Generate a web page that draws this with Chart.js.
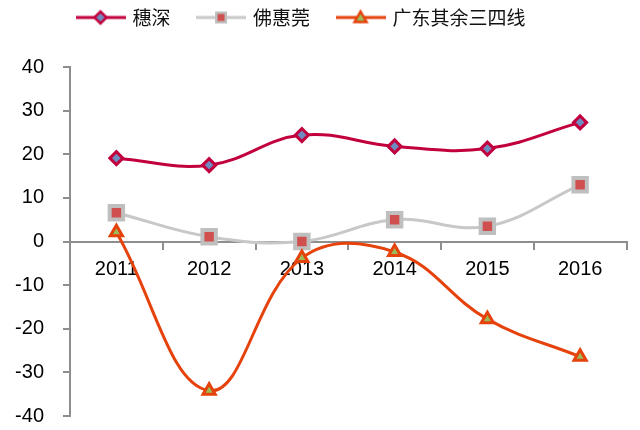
<!DOCTYPE html>
<html><head><meta charset="utf-8">
<script src="https://cdn.jsdelivr.net/npm/chart.js@4"></script>
<style>html,body{margin:0;padding:0;background:#fff}</style>
</head><body>
<canvas id="c" width="640" height="430"></canvas>
<script>
const categories = ['2011', '2012', '2013', '2014', '2015', '2016'];
const seriesNames = ['穗深', '佛惠莞', '广东其余三四线'];
const suishen = [19.1, 17.5, 24.4, 21.8, 21.3, 27.3];
const fohuiguan = [6.6, 1.1, 0.0, 5.0, 3.5, 13.0];
const otherCities = [2.1, -34.2, -3.8, -2.4, -17.8, -26.4];
const yTicks = [-40, -30, -20, -10, 0, 10, 20, 30, 40];

const RED = '#C1003D', DIAMOND_FILL = '#6F8CC0';
const GREY = '#C8C8C8', SQ_BORDER = '#BFBFBF', SQ_FILL = '#D0504F';
const ORANGE = '#E5420C', TRI_FILL = '#9BBB59';
const AXIS = '#8E8E8E';

function legendImg(lineColor, drawMarker) {
  const cv = document.createElement('canvas');
  cv.width = 50; cv.height = 20;
  const g = cv.getContext('2d');
  g.strokeStyle = lineColor; g.lineWidth = 3;
  g.beginPath(); g.moveTo(0, 10); g.lineTo(50, 10); g.stroke();
  drawMarker(g, 25, 10);
  return cv;
}
const legendImages = [
  legendImg(RED, (g, x, y) => {
    g.beginPath(); g.moveTo(x - 6, y); g.lineTo(x, y - 6); g.lineTo(x + 6, y); g.lineTo(x, y + 6); g.closePath();
    g.fillStyle = DIAMOND_FILL; g.fill(); g.lineWidth = 2.5; g.strokeStyle = RED; g.stroke();
  }),
  legendImg(GREY, (g, x, y) => {
    g.fillStyle = SQ_BORDER; g.fillRect(x - 6, y - 6, 12, 12);
    g.fillStyle = SQ_FILL; g.fillRect(x - 3.5, y - 3.5, 7, 7);
  }),
  legendImg(ORANGE, (g, x, y) => {
    g.beginPath(); g.moveTo(x, y - 6); g.lineTo(x + 6, y + 4.5); g.lineTo(x - 6, y + 4.5); g.closePath();
    g.fillStyle = TRI_FILL; g.fill(); g.lineWidth = 2.5; g.strokeStyle = ORANGE; g.lineJoin = 'miter'; g.stroke();
  })
];

const legendPlace = {
  id: 'legendPlace',
  afterLayout(chart) {
    if (chart.legend) { chart.legend.left = 50; chart.legend.top = -20; }
  }
};

new Chart(document.getElementById('c'), {
  type: 'line',
  data: {
    labels: categories,
    datasets: [
      { label: seriesNames[0], data: suishen, borderColor: RED, borderWidth: 3, tension: 0.4,
        pointStyle: 'rectRot', pointRadius: 6.5, pointBorderWidth: 3, pointBackgroundColor: DIAMOND_FILL, pointBorderColor: RED, order: 2 },
      { label: seriesNames[1], data: fohuiguan, borderColor: GREY, borderWidth: 3, tension: 0.4,
        pointStyle: 'rect', pointRadius: 9.5, pointBorderWidth: 4, pointBackgroundColor: SQ_FILL, pointBorderColor: SQ_BORDER, order: 1 },
      { label: seriesNames[2], data: otherCities, borderColor: ORANGE, borderWidth: 3, tension: 0.4,
        pointStyle: 'triangle', pointRadius: 7, pointBorderWidth: 3, pointBackgroundColor: TRI_FILL, pointBorderColor: ORANGE, order: 0 }
    ]
  },
  plugins: [legendPlace],
  options: {
    responsive: false,
    animation: false,
    layout: { padding: { left: 0, right: 12, top: 10, bottom: 0 } },
    plugins: {
      tooltip: { enabled: false },
      legend: {
        display: true,
        position: 'top',
        align: 'start',
        labels: {
          usePointStyle: true,
          pointStyleWidth: 45,
          padding: 28,
          color: '#111',
          font: { family: '"Noto Sans CJK SC"', size: 19 },
          generateLabels: (chart) => seriesNames.map((n, i) => ({
            text: n, pointStyle: legendImages[i], datasetIndex: i, hidden: false,
            fillStyle: 'transparent', strokeStyle: 'transparent', lineWidth: 0, fontColor: '#111'
          }))
        }
      }
    },
    scales: {
      x: {
        type: 'category',
        offset: true,
        position: { y: 0 },
        grid: { display: true, drawOnChartArea: false, offset: true, tickLength: 7, color: AXIS, lineWidth: 2 },
        border: { display: true, color: AXIS, width: 2 },
        ticks: { color: '#000', padding: 9, maxRotation: 0, font: { family: '"Liberation Sans", Arial', size: 20 } }
      },
      y: {
        min: -40, max: 40,
        afterBuildTicks: (s) => { s.ticks = yTicks.map(v => ({ value: v })); },
        afterFit: (s) => { s.width = 70; s.paddingBottom = 14; },
        grid: { display: true, drawOnChartArea: false, tickLength: 7, color: AXIS, lineWidth: 2 },
        border: { display: true, color: AXIS, width: 2 },
        ticks: { color: '#000', padding: 19, font: { family: '"Liberation Sans", Arial', size: 20 } }
      }
    }
  }
});
</script>
</body></html>
